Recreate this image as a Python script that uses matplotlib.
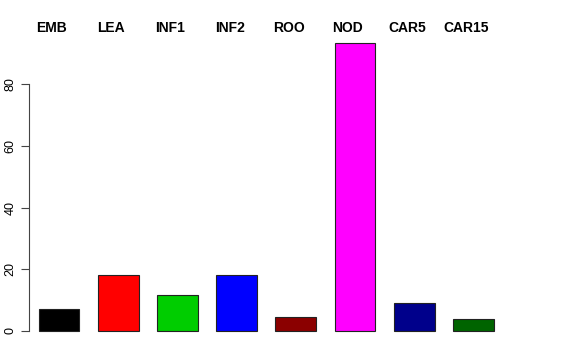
import matplotlib
matplotlib.use("Agg")
import matplotlib.pyplot as plt
import matplotlib.transforms as mtransforms

labels = ["EMB", "LEA", "INF1", "INF2", "ROO", "NOD", "CAR5", "CAR15"]
values = [7.0, 18.1, 11.6, 18.1, 4.4, 93.3, 9.2, 4.0]
colors = ["#000000", "#FF0000", "#00CD00", "#0000FF",
          "#8B0000", "#FF00FF", "#00008B", "#006400"]
yticks = [0, 20, 40, 60, 80]

plt.rcParams["font.family"] = ["Liberation Sans", "DejaVu Sans"]

fig = plt.figure(figsize=(5.76, 3.6), dpi=100)
ax = fig.add_axes([29 / 576, 17.5 / 360, (503 - 29) / 576, (342.5 - 32) / 360])

x = list(range(len(values)))
ax.bar(x, values, width=0.69, color=colors, edgecolor="#222222", linewidth=0.8)

ymax = max(values) * 1.04
ax.set_ylim(-max(values) * 0.04, ymax)
ax.set_xlim(-0.507, 7.5)

ax.spines[["top", "right", "bottom"]].set_visible(False)
ax.spines["left"].set_bounds(0, 80)
ax.spines["left"].set_color("#444444")
ax.set_xticks([])
ax.set_yticks(yticks)
ax.set_yticklabels([str(t) for t in yticks], rotation=90, va="center", fontsize=9)
ax.tick_params(axis="y", length=6, width=0.8, color="#444444", pad=3)

# group labels above the bars
trans = mtransforms.blended_transform_factory(ax.transData, fig.transFigure)
for xi, lab in zip(x, labels):
    ax.text(xi - 0.12, 1 - 28 / 360, lab, transform=trans, ha="center", va="center",
            fontsize=10, fontweight="bold")

fig.savefig("out.png", dpi=100)
